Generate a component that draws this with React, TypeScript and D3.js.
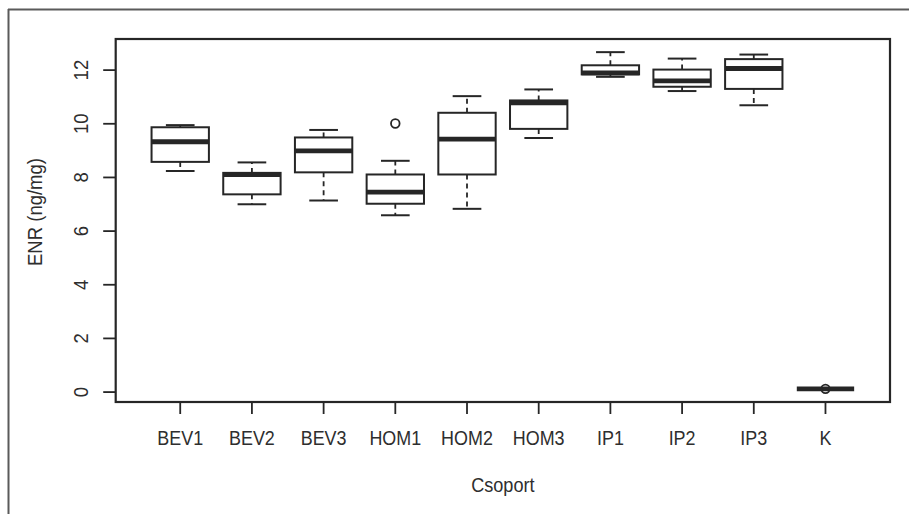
import React from 'react';
import * as d3 from 'd3';

// R-style boxplot: ENR concentration per group (Csoport).

const groups = ['BEV1', 'BEV2', 'BEV3', 'HOM1', 'HOM2', 'HOM3', 'IP1', 'IP2', 'IP3', 'K'];
const whiskerLow = [8.24, 7.0, 7.14, 6.59, 6.83, 9.47, 11.75, 11.22, 10.69, 0.12];
const q1 = [8.58, 7.37, 8.19, 7.02, 8.11, 9.81, 11.84, 11.38, 11.3, 0.12];
const median = [9.33, 8.11, 8.99, 7.45, 9.43, 10.78, 11.9, 11.6, 12.06, 0.12];
const q3 = [9.87, 8.17, 9.49, 8.11, 10.41, 10.87, 12.18, 12.02, 12.41, 0.12];
const whiskerHigh = [9.95, 8.56, 9.77, 8.62, 11.03, 11.28, 12.67, 12.43, 12.58, 0.12];
const outliers = [
  { group: 'HOM1', value: 10.01 },
  { group: 'K', value: 0.12 },
];
const yTicks = [0, 2, 4, 6, 8, 10, 12];

const W = 909;
const H = 514;
const plot = { left: 115.7, right: 890, top: 39, bottom: 402 };
const ink = '#262626';
const textColor = '#2e2e2e';
const font = '"Liberation Sans", Arial, Helvetica, sans-serif';

export default function App() {
  // R boxplot: groups at 1..n, xlim 0.5..n+0.5 plus 4% padding
  const x = d3
    .scaleLinear()
    .domain([0.1, groups.length + 0.9])
    .range([plot.left, plot.right]);
  const y = d3.scaleLinear().domain([-0.37, 13.16]).range([plot.bottom, plot.top]);
  const half = x(1.4) - x(1); // boxwex 0.8
  const staple = half / 2;

  return (
    <svg
      width={W}
      height={H}
      style={{ position: 'absolute', left: 0, top: 0, background: '#fff' }}
      fontFamily={font}
    >
      {/* figure frame (top and left edges) */}
      <line x1={8} x2={W} y1={9.5} y2={9.5} stroke="#5a5a5a" strokeWidth={2} />
      <line x1={8.5} x2={8.5} y1={9} y2={H} stroke="#5a5a5a" strokeWidth={2} />

      {/* boxes */}
      {groups.map((g, i) => {
        const cx = x(i + 1);
        return (
          <g key={g} stroke={ink} fill="none">
            <line x1={cx} x2={cx} y1={y(q3[i])} y2={y(whiskerHigh[i])} strokeWidth={1.8} strokeDasharray="5 4" />
            <line x1={cx} x2={cx} y1={y(q1[i])} y2={y(whiskerLow[i])} strokeWidth={1.8} strokeDasharray="5 4" />
            <line x1={cx - staple} x2={cx + staple} y1={y(whiskerHigh[i])} y2={y(whiskerHigh[i])} strokeWidth={2} />
            <line x1={cx - staple} x2={cx + staple} y1={y(whiskerLow[i])} y2={y(whiskerLow[i])} strokeWidth={2} />
            <rect
              x={cx - half}
              y={y(q3[i])}
              width={half * 2}
              height={Math.max(0, y(q1[i]) - y(q3[i]))}
              fill="#fff"
              strokeWidth={2}
            />
            <line x1={cx - half} x2={cx + half} y1={y(median[i])} y2={y(median[i])} strokeWidth={4.8} />
          </g>
        );
      })}

      {outliers.map((o) => (
        <circle
          key={o.group}
          cx={x(groups.indexOf(o.group) + 1)}
          cy={y(o.value)}
          r={4.3}
          fill="none"
          stroke={ink}
          strokeWidth={1.8}
        />
      ))}

      {/* plot box */}
      <rect
        x={plot.left}
        y={plot.top}
        width={plot.right - plot.left}
        height={plot.bottom - plot.top}
        fill="none"
        stroke={ink}
        strokeWidth={2.2}
      />

      {/* y axis */}
      {yTicks.map((t) => (
        <g key={t}>
          <line x1={plot.left - 12.5} x2={plot.left} y1={y(t)} y2={y(t)} stroke={ink} strokeWidth={1.8} />
          <text
            transform={`translate(88,${y(t)}) rotate(-90) scale(0.95,1)`}
            textAnchor="middle"
            fontSize={19.5}
            fill={textColor}
          >
            {t}
          </text>
        </g>
      ))}
      <text
        transform={`translate(42,212) rotate(-90) scale(0.95,1)`}
        textAnchor="middle"
        fontSize={19.5}
        fill={textColor}
      >
        ENR (ng/mg)
      </text>

      {/* x axis */}
      {groups.map((g, i) => (
        <g key={g}>
          <line x1={x(i + 1)} x2={x(i + 1)} y1={plot.bottom} y2={plot.bottom + 12} stroke={ink} strokeWidth={1.8} />
          <text
            transform={`translate(${x(i + 1)},445) scale(0.92,1)`}
            textAnchor="middle"
            fontSize={19.5}
            fill={textColor}
          >
            {g}
          </text>
        </g>
      ))}
      <text
        transform={`translate(${(plot.left + plot.right) / 2},492) scale(0.93,1)`}
        textAnchor="middle"
        fontSize={19.5}
        fill={textColor}
      >
        Csoport
      </text>
    </svg>
  );
}
